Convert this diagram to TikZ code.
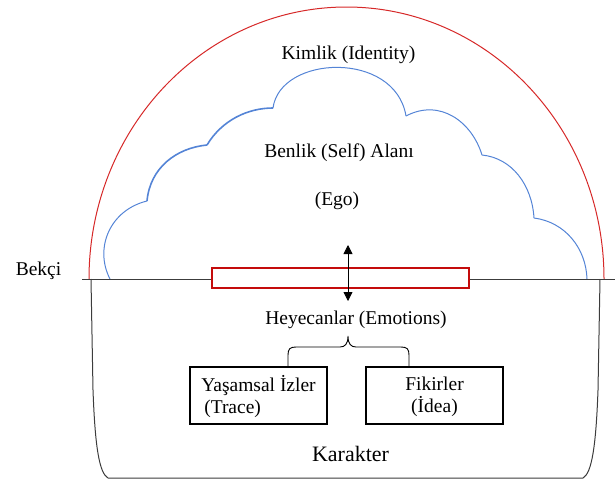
\documentclass[tikz,border=0pt]{standalone}
\usepackage{fontspec}
\setmainfont{Liberation Serif}
\usetikzlibrary{arrows.meta}
\definecolor{arcred}{RGB}{214,40,40}
\definecolor{boxred}{RGB}{196,12,12}
\definecolor{cloudblue}{RGB}{84,132,214}
\definecolor{linegray}{RGB}{60,60,60}
\begin{document}
\begin{tikzpicture}[x=1pt,y=-1pt,
  lbl/.style={inner sep=0pt,font=\fontsize{19.5}{22}\selectfont},
  biglbl/.style={inner sep=0pt,font=\fontsize{22}{25}\selectfont},
  itembox/.style={draw=black,line width=1.6pt,minimum width=137pt,minimum height=57pt,inner sep=0pt},
  cloud/.style={draw=cloudblue,line width=1pt},
  cloudthick/.style={draw=cloudblue,line width=1.6pt},
  cont/.style={draw=linegray,line width=1pt},
  gate/.style={draw=boxred,line width=1.6pt,fill=white,minimum width=257pt,minimum height=20pt,inner sep=0pt},
  dbl/.style={{Triangle[width=9pt,length=9pt]}-{Triangle[width=9pt,length=9pt]},line width=0.8pt,black}
]
\useasboundingbox (0,0) rectangle (615,480);

% red outer arc (Kimlik)
\draw[arcred,line width=1pt] (89,279) arc[start angle=180,end angle=360,x radius=257.5,y radius=272];

% cloud (Benlik)
\draw[cloud] (110,279) .. controls (94,248) and (110,210) .. (147,201);
\draw[cloudthick] (147,201) .. controls (150,168) and (176,148) .. (207,145);
\draw[cloudthick] (207,145) .. controls (222,120) and (248,108) .. (273,108);
\draw[cloud] (273,108) .. controls (280,55) and (395,50) .. (406,116);
\draw[cloud] (406,116) .. controls (440,98) and (472,122) .. (482,155);
\draw[cloud] (482,155) .. controls (512,158) and (532,185) .. (534,218);
\draw[cloud] (534,218) .. controls (565,222) and (586,248) .. (587,279);

% lower container (Karakter)
\draw[cont] (91,279) -- (93,390) .. controls (95,445) and (99,473) .. (108,478) -- (583,478) .. controls (592,473) and (596,445) .. (598,390) -- (600,279);

% horizontal line (Bekçi)
\draw[linegray,line width=1pt] (82,279) -- (615,279);

% gate box
\node[gate] (gate) at (340.5,278) {};

% double arrow
\coordinate (atop) at (348,245);
\coordinate (abot) at (348,301);
\draw[dbl] (atop) -- (abot);

% texts
\node[lbl] (kimlik) at (348.5,55) {Kimlik (Identity)};
\node[lbl] (benlik) at (339,153) {Benlik (Self) Alanı};
\node[lbl] (ego) at (337,201) {(Ego)};
\node[lbl] (bekci) at (38.5,271) {Bekçi};
\node[lbl] (heyecan) at (356,320) {Heyecanlar (Emotions)};
\node[biglbl] (karakter) at (350.5,454) {Karakter};

% boxes
\node[itembox] (trace) at (258.5,395.5) {};
\node[lbl,align=left] (tracetxt) at (258.5,397) {Yaşamsal İzler\\\hspace{3pt}(Trace)};
\node[itembox] (idea) at (434.5,395.5) {};
\node[lbl,align=center] (ideatxt) at (434.5,397) {Fikirler\\(İdea)};

% brace
\coordinate (bl) at (288,367);
\coordinate (br) at (409,367);
\coordinate (btip) at (348,336);
\draw[black,line width=0.9pt] (bl) -- (288,355) .. controls (288,349) and (290,347) .. (296,347)
  -- (340,347) .. controls (345,347) and (348,344) .. (btip)
  .. controls (348,344) and (351,347) .. (356,347) -- (401,347)
  .. controls (407,347) and (409,349) .. (409,355) -- (br);
\end{tikzpicture}
\end{document}
